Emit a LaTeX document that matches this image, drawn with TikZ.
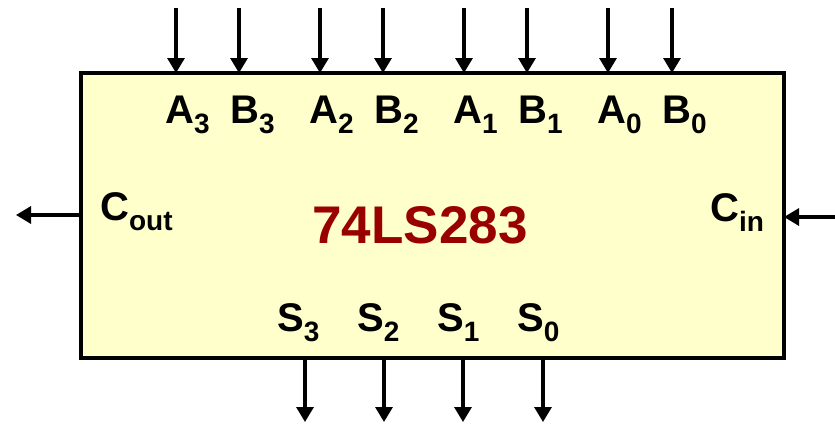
\documentclass[tikz,border=0pt]{standalone}
\usepackage{fontspec}
\setmainfont{Liberation Sans}
\usetikzlibrary{arrows.meta}
\definecolor{chipfill}{HTML}{FFFFCC}
\definecolor{chipred}{HTML}{990000}
\newcommand\pinlbl[2]{#1\raisebox{-10pt}{\fontsize{28}{28}\selectfont #2}}
\tikzset{
  chipbox/.style={draw=black, fill=chipfill, line width=4pt, inner sep=0pt, outer sep=0pt},
  pinline/.style={line width=3.2pt, -{Triangle[length=15pt,width=17pt]}},
  pintext/.style={anchor=base west, inner sep=0pt, font=\fontsize{40}{40}\selectfont\bfseries},
  titletext/.style={anchor=base, inner sep=0pt, text=chipred, font=\fontsize{53}{53}\selectfont\bfseries}
}
\begin{document}
\begin{tikzpicture}[x=1pt,y=-1pt]
\useasboundingbox (0,0) rectangle (835,423);
\node[chipbox, minimum width=703pt, minimum height=285pt] (chip) at (432.5,215.5) {};
% top inputs
\foreach \n/\x in {A3/176,B3/239,A2/320,B2/383,A1/464,B1/527,A0/608,B0/672}{
  \coordinate (t\n) at (\x,8);
  \draw[pinline] (t\n) -- (t\n |- chip.north);
}
% bottom outputs
\foreach \n/\x in {S3/305,S2/384,S1/463,S0/543}{
  \coordinate (b\n) at (\x,422);
  \draw[pinline] (b\n |- chip.south) -- (b\n);
}
% carry
\coordinate (cout) at (16,215);
\coordinate (cin) at (835,217);
\draw[pinline] (cout -| chip.west) -- (cout);
\draw[pinline] (cin) -- (cin -| chip.east);
% labels
\node[pintext] (lA3) at (165,123) {\pinlbl{A}{3}};
\node[pintext] (lB3) at (230,123) {\pinlbl{B}{3}};
\node[pintext] (lA2) at (309,123) {\pinlbl{A}{2}};
\node[pintext] (lB2) at (374,123) {\pinlbl{B}{2}};
\node[pintext] (lA1) at (453,123) {\pinlbl{A}{1}};
\node[pintext] (lB1) at (518,123) {\pinlbl{B}{1}};
\node[pintext] (lA0) at (597,123) {\pinlbl{A}{0}};
\node[pintext] (lB0) at (662,123) {\pinlbl{B}{0}};
\node[pintext] (lS3) at (277,331) {\pinlbl{S}{3}};
\node[pintext] (lS2) at (357,331) {\pinlbl{S}{2}};
\node[pintext] (lS1) at (437,331) {\pinlbl{S}{1}};
\node[pintext] (lS0) at (517,331) {\pinlbl{S}{0}};
\node[pintext] (lCout) at (100,220) {\pinlbl{C}{out}};
\node[pintext] (lCin) at (710,221) {\pinlbl{C}{in}};
\node[titletext] (title) at (420,243) {74LS283};
\end{tikzpicture}
\end{document}
